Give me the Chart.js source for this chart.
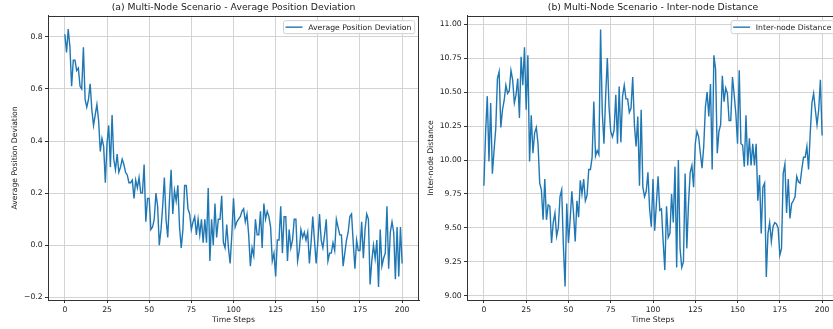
<!DOCTYPE html>
<html>
<head>
<meta charset="utf-8">
<script src="https://cdn.jsdelivr.net/npm/chart.js@4.4.1/dist/chart.umd.min.js"></script>
<style>
  html, body { margin: 0; padding: 0; background: #fff; }
  #wrap { position: relative; width: 833px; height: 329px; overflow: hidden; }
  canvas { position: absolute; top: 0; }
</style>
</head>
<body>
<div id="wrap">
  <canvas id="devChart" width="425" height="329" style="left:0"></canvas>
  <canvas id="distChart" width="425" height="329" style="left:420px"></canvas>
</div>
<script>
// time steps 0..200
const timeSteps = Array.from({length: 201}, (_, i) => i);
const xTicks = [0, 25, 50, 75, 100, 125, 150, 175, 200];
const devTicks = [-0.2, 0, 0.2, 0.4, 0.6, 0.8];
const distTicks = [9.0, 9.25, 9.5, 9.75, 10.0, 10.25, 10.5, 10.75, 11.0];

// (a) average position deviation
const avgDeviation = [
  0.81, 0.74, 0.83, 0.76, 0.61, 0.71, 0.71, 0.67, 0.68, 0.61,
  0.60, 0.76, 0.56, 0.53, 0.56, 0.62, 0.52, 0.46, 0.50, 0.54,
  0.48, 0.36, 0.41, 0.38, 0.24, 0.39, 0.46, 0.30, 0.50, 0.33,
  0.29, 0.35, 0.28, 0.30, 0.33, 0.31, 0.28, 0.27, 0.24, 0.24,
  0.25, 0.18, 0.25, 0.22, 0.26, 0.20, 0.20, 0.31, 0.09, 0.18,
  0.18, 0.06, 0.07, 0.10, 0.20, 0.15, 0.00, 0.06, 0.15, 0.26,
  0.10, 0.03, 0.17, 0.29, 0.12, 0.21, 0.17, 0.23, 0.07, -0.01,
  0.06, 0.23, 0.23, 0.14, 0.12, 0.06, 0.09, 0.11, 0.04, 0.10,
  0.04, 0.10, 0.01, 0.10, 0.01, 0.22, -0.06, 0.10, 0.00, 0.16,
  0.03, 0.10, 0.10, 0.19, 0.01, -0.01, 0.08, -0.01, -0.07, 0.04,
  0.18, 0.07, 0.09, 0.10, 0.11, 0.13, 0.14, 0.09, 0.12, 0.04,
  -0.08, -0.01, -0.04, 0.10, 0.04, 0.04, 0.13, -0.01, 0.16, 0.10,
  0.13, 0.11, 0.07, -0.06, -0.03, -0.12, 0.02, 0.02, 0.15, -0.03,
  0.11, 0.11, -0.06, 0.06, -0.01, 0.02, 0.10, 0.10, -0.06, -0.02,
  0.06, 0.03, 0.05, 0.02, 0.05, -0.07, 0.01, 0.11, 0.02, -0.07,
  0.01, 0.12, 0.02, -0.01, 0.04, 0.10, -0.06, -0.03, -0.03, 0.01,
  -0.02, 0.10, 0.07, 0.04, 0.04, -0.08, -0.03, 0.02, 0.05, 0.11,
  0.12, 0.01, -0.09, 0.02, -0.02, -0.02, 0.09, -0.05, 0.06, 0.12,
  0.10, -0.15, -0.06, 0.00, -0.05, 0.02, -0.16, 0.06, -0.08, -0.05,
  -0.03, 0.15, -0.09, 0.05, 0.09, 0.05, -0.13, 0.07, -0.12, 0.07,
  -0.07
];

// (b) inter-node distance
const interNodeDistance = [
  9.81, 10.20, 10.47, 9.99, 10.42, 9.90, 10.07, 10.23, 10.60, 10.65,
  10.24, 10.37, 10.44, 10.55, 10.49, 10.51, 10.66, 10.59, 10.42, 10.48,
  10.60, 10.31, 10.76, 10.55, 10.83, 10.37, 10.77, 9.99, 10.33, 10.05,
  10.20, 10.24, 10.12, 9.83, 9.78, 9.56, 9.86, 9.56, 9.67, 9.66,
  9.39, 9.54, 9.61, 9.44, 9.50, 9.73, 9.78, 9.37, 9.07, 9.68,
  9.39, 9.56, 9.77, 9.61, 9.40, 9.70, 9.58, 9.85, 9.75, 9.86,
  9.70, 9.74, 9.93, 9.93, 10.02, 10.43, 10.03, 10.07, 10.04, 10.96,
  10.35, 10.12, 10.47, 10.75, 10.39, 10.21, 10.17, 10.22, 10.48, 10.12,
  10.54, 10.13, 10.47, 10.55, 10.45, 10.45, 10.35, 10.38, 10.61, 10.26,
  10.10, 10.32, 9.81, 10.37, 9.80, 9.73, 9.77, 9.91, 9.64, 9.51,
  9.86, 9.48, 9.68, 9.88, 9.63, 9.64, 9.40, 9.19, 9.66, 9.43,
  9.46, 9.75, 9.54, 9.95, 9.21, 10.00, 9.35, 9.21, 9.25, 9.90,
  9.35, 9.68, 9.91, 9.96, 9.80, 10.12, 10.21, 10.17, 10.05, 9.94,
  10.10, 10.39, 10.50, 10.32, 10.56, 9.93, 10.77, 10.67, 10.05, 10.21,
  10.26, 10.62, 10.43, 10.53, 10.49, 10.29, 10.29, 10.61, 10.48, 10.34,
  10.12, 10.66, 10.12, 10.11, 9.95, 10.33, 9.96, 10.16, 9.96, 10.12,
  9.96, 10.12, 9.70, 9.89, 9.46, 9.80, 9.83, 9.14, 9.46, 9.54,
  9.40, 9.51, 9.54, 9.53, 9.50, 9.30, 9.35, 9.90, 9.97, 9.61,
  9.86, 9.57, 9.68, 9.70, 9.73, 9.88, 9.84, 9.83, 9.93, 10.02,
  10.02, 10.10, 9.93, 10.20, 10.42, 10.49, 10.37, 10.26, 10.37, 10.59,
  10.18
];

const FONT = 'DejaVu Sans';
const LINE_BLUE = '#1f77b4';
const AXIS_DARK = '#333333';

// matplotlib-ish frame + legend inside the axes
const framePlugin = {
  id: 'frame',
  afterDraw(chart) {
    const { ctx, chartArea: a } = chart;
    ctx.save();
    ctx.strokeStyle = AXIS_DARK;
    ctx.lineWidth = 1;
    ctx.strokeRect(Math.round(a.left) + 0.5, Math.round(a.top) + 0.5,
                   Math.round(a.right - a.left) - 1, Math.round(a.bottom - a.top));

    const label = chart.data.datasets[0].label;
    ctx.font = '7.7px "' + FONT + '"';
    const tw = ctx.measureText(label).width;
    const w = tw + 28, h = 13;
    const x = a.right - 4.3 - w, y = a.top + 4.7;
    ctx.beginPath();
    ctx.roundRect(x, y, w, h, 2);
    ctx.fillStyle = 'rgba(255,255,255,0.85)';
    ctx.fill();
    ctx.strokeStyle = '#d0d0d0';
    ctx.lineWidth = 1;
    ctx.stroke();

    ctx.beginPath();
    ctx.moveTo(x + 2, y + h / 2);
    ctx.lineTo(x + 19, y + h / 2);
    ctx.strokeStyle = LINE_BLUE;
    ctx.lineWidth = 1.4;
    ctx.stroke();

    ctx.fillStyle = '#222';
    ctx.textBaseline = 'middle';
    ctx.textAlign = 'left';
    ctx.fillText(label, x + 24.7, y + h / 2 + 0.5);
    ctx.restore();
  }
};

function fmtTick(v, digits) {
  const s = Math.abs(v).toFixed(digits);
  return (v < 0 ? '\u2212' : '') + s;
}

function makeChart(id, title, label, values, yMin, yMax, yTicks, digits, yLabel, yAxisWidth, yTitlePad) {
  return new Chart(document.getElementById(id), {
    type: 'line',
    data: {
      datasets: [{
        label: label,
        data: timeSteps.map((t, i) => ({ x: t, y: values[i] })),
        borderColor: LINE_BLUE,
        borderWidth: 1.4,
        pointRadius: 0,
        tension: 0,
        fill: false
      }]
    },
    options: {
      responsive: false,
      animation: false,
      layout: { padding: { left: 0, right: 6, top: 0, bottom: 0 } },
      plugins: {
        legend: { display: false },
        tooltip: { enabled: false },
        title: {
          display: true,
          text: title,
          fullSize: false,
          color: '#222',
          font: { family: FONT, size: 9.3, weight: 'normal' },
          padding: { top: 1.7, bottom: 3.1 }
        }
      },
      scales: {
        x: {
          type: 'linear',
          min: -10,
          max: 210,
          afterBuildTicks: s => { s.ticks = xTicks.map(v => ({ value: v })); },
          afterFit: s => { s.height = 29; },
          ticks: { color: '#222', font: { family: FONT, size: 7.7 }, padding: 2, maxRotation: 0 },
          grid: { color: '#d3d3d3', lineWidth: 1, tickColor: AXIS_DARK, tickLength: 3 },
          border: { display: true, color: AXIS_DARK },
          title: {
            display: true, text: 'Time Steps', color: '#222',
            font: { family: FONT, size: 7.7 }, padding: { top: 3, bottom: 4.4 }
          }
        },
        y: {
          min: yMin,
          max: yMax,
          afterBuildTicks: s => { s.ticks = yTicks.map(v => ({ value: v })); },
          afterFit: s => { s.width = yAxisWidth; },
          ticks: {
            color: '#222', font: { family: FONT, size: 7.7 }, padding: 2.3,
            callback: v => fmtTick(v, digits)
          },
          grid: { color: '#d3d3d3', lineWidth: 1, tickColor: AXIS_DARK, tickLength: 3 },
          border: { display: true, color: AXIS_DARK },
          title: {
            display: true, text: yLabel, color: '#222',
            font: { family: FONT, size: 7.7 }, padding: { top: yTitlePad, bottom: 0 }
          }
        }
      }
    },
    plugins: [framePlugin]
  });
}

makeChart('devChart', '(a) Multi-Node Scenario - Average Position Deviation',
  'Average Position Deviation', avgDeviation, -0.21, 0.88, devTicks, 1,
  'Average Position Deviation', 48, 10.4);

makeChart('distChart', '(b) Multi-Node Scenario - Inter-node Distance',
  'Inter-node Distance', interNodeDistance, 8.97, 11.06, distTicks, 2,
  'Inter-node Distance', 47, 6.1);
</script>
</body>
</html>
